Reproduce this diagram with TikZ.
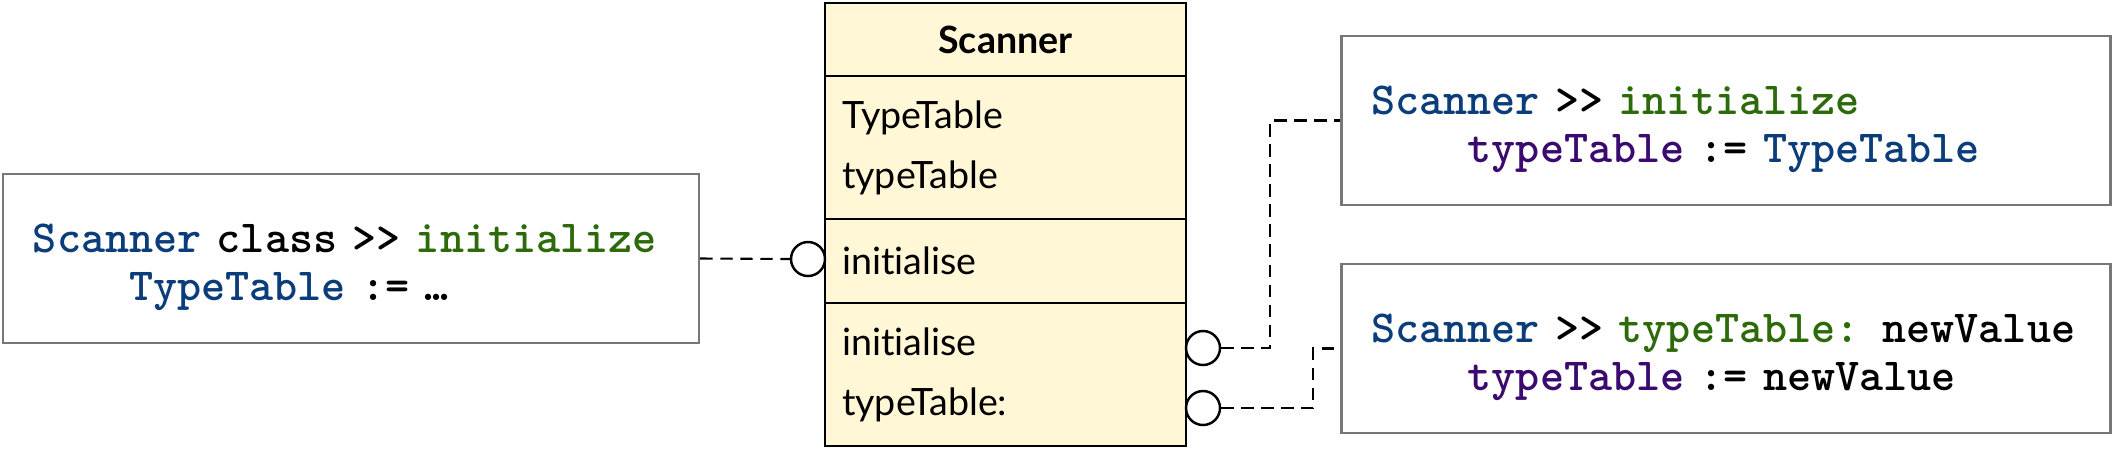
\documentclass[tikz,border=0pt]{standalone}
\usepackage{fontspec}
\newfontfamily\umlfont[Ligatures=NoCommon]{Lato}
\usepackage{xcolor}
\usepackage{tikz}
\usetikzlibrary{positioning,calc}

\definecolor{classfill}{HTML}{FFF7D6}
\definecolor{codeblue}{HTML}{0B3D7A}
\definecolor{codegreen}{HTML}{2D6A0A}
\definecolor{codepurple}{HTML}{3A0A6E}
\definecolor{boxgray}{HTML}{777777}

\newcommand{\cls}[1]{\textcolor{codeblue}{#1}}
\newcommand{\sel}[1]{\textcolor{codegreen}{#1}}
\newcommand{\ivar}[1]{\textcolor{codepurple}{#1}}
\newcommand{\ind}{\phantom{xxxx}}
\newcommand{\codetop}{\rule{0pt}{0.46cm}}

\begin{document}
\begin{tikzpicture}[
    classpart/.style={rectangle, draw, line width=0.8pt, outer sep=0pt, fill=classfill, minimum width=3.61cm, text width=3.27cm, inner xsep=0.17cm, align=left, font=\umlfont\fontsize{10.7}{17}\selectfont},
    codebox/.style={rectangle, draw=boxgray, line width=0.7pt, minimum height=1.69cm, inner xsep=0.3cm, align=left, font=\ttfamily\bfseries\fontsize{13.05}{13.5}\selectfont},
    port/.style={circle, draw, line width=0.7pt, fill=white, minimum size=0.34cm, inner sep=0pt},
    conn/.style={line width=0.6pt, dash pattern=on 3.5pt off 2.2pt}
]
\useasboundingbox (0,0) rectangle (21.13,-4.49);

% Class
\node[classpart, minimum height=0.73cm, align=center, font=\umlfont\bfseries\fontsize{10.7}{17}\selectfont] (scanner) at (10.055,-0.395) {Scanner};
\node[classpart, minimum height=1.43cm, below=0pt of scanner] (scannerattr) {TypeTable\\typeTable};
\node[classpart, minimum height=0.84cm, below=0pt of scannerattr] (scannerinit) {initialise};
\node[classpart, minimum height=1.43cm, below=0pt of scannerinit] (scannerops) {initialise\\typeTable:};

% Ports
\node[port] (leftport) at (8.08,-2.59) {};
\node[port] (initport) at (12.03,-3.48) {};
\node[port] (setport) at (12.03,-4.08) {};

% Code
\node[codebox, text width=6.36cm] (classinit) at (3.51,-2.585) {\codetop\mbox{\cls{Scanner} class >> \sel{initialize}}\\\mbox{\ind\cls{TypeTable} := …}};
\node[codebox, text width=7.09cm] (initbox) at (17.26,-1.205) {\codetop\mbox{\cls{Scanner} >> \sel{initialize}}\\\mbox{\ind\ivar{typeTable} := \cls{TypeTable}}};
\node[codebox, text width=7.09cm] (setbox) at (17.26,-3.485) {\codetop\mbox{\cls{Scanner} >> \sel{typeTable:} newValue}\\\mbox{\ind\ivar{typeTable} := newValue}};

% Connectors
\draw[conn] (classinit.east) -- (leftport.west);
\draw[conn] (initport.east) -- ++(0.49,0) |- (initbox.west);
\draw[conn] (setport.east) -- ++(0.92,0) |- (setbox.west);

\end{tikzpicture}
\end{document}
